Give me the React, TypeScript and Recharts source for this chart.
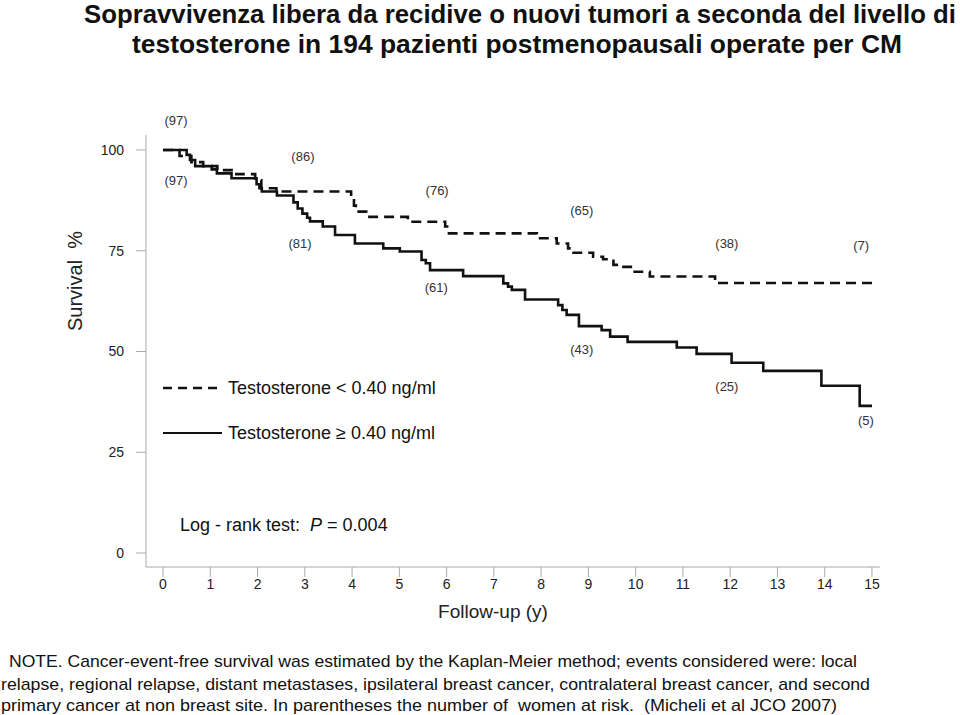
import React from 'react';
import { LineChart, Line, XAxis, YAxis, ReferenceDot } from 'recharts';

// Kaplan-Meier step points: year of event, survival (%) after the event
const lowYears = [0, 0.35, 0.6, 0.85, 1.15, 1.55, 1.95, 2.08, 2.4, 3.98, 4.04, 4.08, 4.3, 5.18, 5.97, 6.05, 7.91, 8.33, 8.57, 8.65, 9.1, 9.31, 9.53, 9.67, 9.94, 10.3, 11.68, 15.0];
const lowSurv = [100, 98.5, 97.0, 96.0, 95.0, 94.0, 92.5, 90.5, 89.7, 88.5, 86.2, 84.7, 83.4, 82.2, 81.0, 79.3, 78.1, 76.8, 75.6, 74.5, 73.5, 72.9, 71.5, 71.0, 69.8, 68.6, 67.0, 67.0];

const highYears = [0, 0.5, 0.57, 0.68, 1.03, 1.14, 1.45, 1.98, 2.04, 2.09, 2.41, 2.76, 2.85, 2.95, 3.05, 3.11, 3.38, 3.64, 4.06, 4.66, 5.01, 5.47, 5.56, 5.65, 6.35, 7.2, 7.3, 7.38, 7.66, 8.36, 8.45, 8.54, 8.8, 9.28, 9.46, 9.83, 10.87, 11.29, 12.03, 12.7, 13.93, 14.74, 15.0];
const highSurv = [100, 98.8, 97.5, 96.0, 95.2, 94.2, 93.0, 91.5, 90.5, 89.7, 88.7, 87.0, 85.5, 84.2, 83.2, 82.3, 81.0, 78.9, 76.8, 75.6, 74.8, 72.7, 71.9, 70.2, 68.7, 66.9, 66.1, 65.3, 62.9, 61.5, 60.3, 59.1, 56.3, 55.3, 53.7, 52.4, 51.0, 49.4, 47.2, 45.2, 41.5, 36.5, 36.5];

// Numbers at risk
const atRiskLow = [97, 86, 76, 65, 38, 7];
const atRiskHigh = [97, 81, 61, 43, 25, 5];
// label anchor positions (data coordinates)
const atRiskLowX = [0.275, 2.96, 5.8, 8.86, 11.93, 14.77];
const atRiskLowY = [107.4, 98.3, 90.1, 85.1, 76.9, 76.4];
const atRiskHighX = [0.275, 2.9, 5.78, 8.86, 11.93, 14.87];
const atRiskHighY = [92.5, 76.9, 66.0, 50.6, 41.4, 32.8];

const xTicks = [0, 1, 2, 3, 4, 5, 6, 7, 8, 9, 10, 11, 12, 13, 14, 15];
const yTicks = [0, 25, 50, 75, 100];

const lowData = lowYears.map((t, i) => ({ t, s: lowSurv[i] }));
const highData = highYears.map((t, i) => ({ t, s: highSurv[i] }));

const FONT = "'Liberation Sans', Arial, Helvetica, sans-serif";

export default function App() {
  return (
    <div style={{ position: 'absolute', left: 0, top: 0, width: 960, height: 715, background: '#fff', fontFamily: FONT }}>
      <LineChart width={960} height={715} margin={{ top: 135, right: 80, bottom: 88, left: 86 }}>
        <XAxis
          dataKey="t"
          type="number"
          domain={[-0.36, 15.17]}
          ticks={xTicks}
          allowDataOverflow
          height={60}
          tickSize={10}
          axisLine={{ stroke: '#aaa' }}
          tickLine={{ stroke: '#aaa' }}
          tick={{ fill: '#222', fontSize: 14, fontFamily: FONT }}
        />
        <YAxis
          type="number"
          domain={[-3.47, 103.72]}
          ticks={yTicks}
          allowDataOverflow
          width={60}
          tickSize={10}
          tickMargin={12}
          axisLine={{ stroke: '#aaa' }}
          tickLine={{ stroke: '#aaa' }}
          tick={{ fill: '#222', fontSize: 14, fontFamily: FONT }}
        />
        <Line data={lowData} dataKey="s" type="stepAfter" stroke="#111" strokeWidth={2.6} strokeDasharray="10 6" dot={false} isAnimationActive={false} />
        <Line data={highData} dataKey="s" type="stepAfter" stroke="#111" strokeWidth={2.6} dot={false} isAnimationActive={false} />
        {atRiskLow.map((n, i) => (
          <ReferenceDot key={'l' + i} x={atRiskLowX[i]} y={atRiskLowY[i]} r={0} ifOverflow="visible" stroke="none" fill="none"
            label={{ value: `(${n})`, position: 'center', fontSize: 13, fill: '#333', fontFamily: FONT }} />
        ))}
        {atRiskHigh.map((n, i) => (
          <ReferenceDot key={'h' + i} x={atRiskHighX[i]} y={atRiskHighY[i]} r={0} ifOverflow="visible" stroke="none" fill="none"
            label={{ value: `(${n})`, position: 'center', fontSize: 13, fill: '#333', fontFamily: FONT }} />
        ))}
      </LineChart>
      <svg width={960} height={715} style={{ position: 'absolute', left: 0, top: 0, pointerEvents: 'none' }} fontFamily={FONT}>
        <text x={520} y={23} textAnchor="middle" fontSize={25} fontWeight="bold" fill="#111" textLength={872} lengthAdjust="spacingAndGlyphs">
          Sopravvivenza libera da recidive o nuovi tumori a seconda del livello di
        </text>
        <text x={517} y={53} textAnchor="middle" fontSize={25} fontWeight="bold" fill="#111" textLength={770} lengthAdjust="spacingAndGlyphs">
          testosterone  in 194 pazienti postmenopausali operate per CM
        </text>
        <text x={0} y={0} transform="translate(82,281) rotate(-90)" textAnchor="middle" fontSize={20} fill="#222" style={{ whiteSpace: 'pre' }}>
          Survival  %
        </text>
        <text x={493} y={618} textAnchor="middle" fontSize={19} fill="#222">Follow-up (y)</text>
        <line x1={163} y1={388} x2={219} y2={388} stroke="#111" strokeWidth={2.6} strokeDasharray="9 6" />
        <text x={228} y={394} fontSize={18} fill="#111">Testosterone &lt; 0.40 ng/ml</text>
        <line x1={163} y1={433} x2={222} y2={433} stroke="#111" strokeWidth={2} />
        <text x={228} y={439} fontSize={18} fill="#111">Testosterone ≥ 0.40 ng/ml</text>
        <text x={180} y={531} fontSize={18} fill="#111" style={{ whiteSpace: 'pre' }}>
          Log - rank test:  <tspan fontStyle="italic">P</tspan> = 0.004
        </text>
        <text x={9} y={667} fontSize={17} fill="#111" textLength={848} lengthAdjust="spacingAndGlyphs">
          NOTE. Cancer-event-free survival was estimated by the Kaplan-Meier method; events considered were: local
        </text>
        <text x={1} y={690} fontSize={17} fill="#111" textLength={869} lengthAdjust="spacingAndGlyphs">
          relapse, regional relapse, distant metastases, ipsilateral breast cancer, contralateral breast cancer, and second
        </text>
        <text x={1} y={711} fontSize={17} fill="#111" textLength={836} lengthAdjust="spacingAndGlyphs" style={{ whiteSpace: 'pre' }}>
          primary cancer at non breast site. In parentheses the number of  women at risk.  (Micheli et al JCO 2007)
        </text>
      </svg>
    </div>
  );
}
